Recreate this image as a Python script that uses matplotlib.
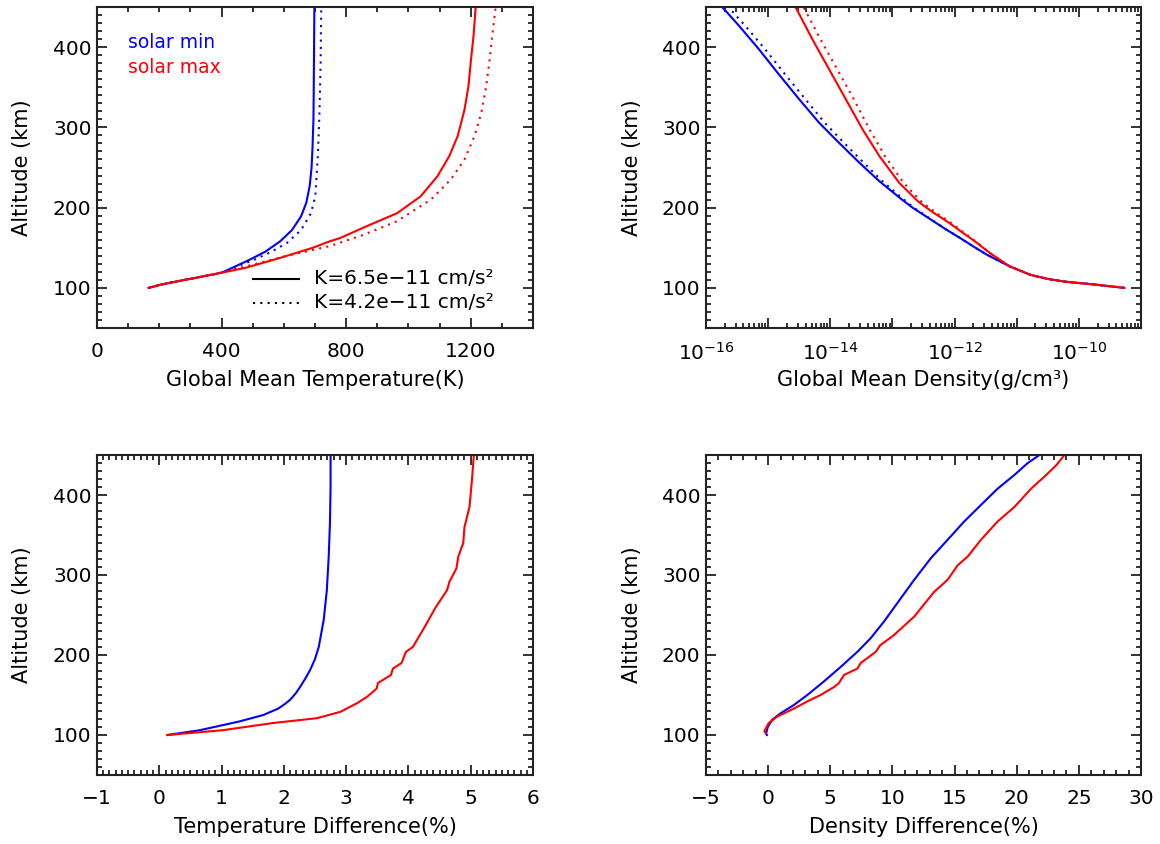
import numpy as np
import matplotlib
matplotlib.use("Agg")
import matplotlib.pyplot as plt
from matplotlib.ticker import MultipleLocator, FixedLocator, FuncFormatter, LogLocator, NullFormatter

# ---------------- data ----------------
# Top-left: global mean temperature (K) vs altitude (km)
alt_tmin_solid = [100, 104, 108, 112, 119, 126, 135, 145, 158, 172, 189, 206, 227, 250, 275, 310, 350, 400, 450]
tmin_solid     = [166, 205, 255, 310, 401, 440, 490, 540, 588, 626, 655, 672, 683, 689, 692, 695, 696, 697, 698]
alt_tmin_dot   = [100, 104, 108, 112, 119, 126, 135, 145, 156, 172, 193, 214, 264, 314, 379, 450]
tmin_dot       = [166, 205, 255, 310, 401, 445, 505, 560, 610, 655, 687, 701, 709, 714, 718, 720]
alt_tmax_solid = [100, 104, 108, 112, 119, 125, 137, 150, 158, 162, 175, 193, 214, 239, 264, 289, 322, 352, 385, 414, 450]
tmax_solid     = [166, 205, 255, 310, 401, 477, 585, 693, 747, 780, 855, 963, 1039, 1093, 1131, 1158, 1180, 1193, 1201, 1209, 1216]
alt_tmax_dot   = [100, 104, 108, 112, 119, 128, 140, 152, 166, 183, 210, 235, 260, 289, 318, 352, 385, 414, 450]
tmax_dot       = [166, 205, 255, 310, 401, 490, 610, 747, 855, 963, 1072, 1136, 1180, 1212, 1234, 1250, 1261, 1269, 1280]

# Top-right: global mean density (log10 g/cm3) vs altitude (km)
alt_dmin_solid = [100, 103.8, 107.9, 111.3, 116.3, 126.7, 141.3, 151.7, 162.1, 172.5, 199.6, 210.8, 232.9, 255.8, 280.8, 305.8, 335, 366.3, 397.5, 426.7, 450]
logd_min_solid = [-9.27, -9.70, -10.24, -10.51, -10.78, -11.11, -11.48, -11.70, -11.91, -12.13, -12.67, -12.86, -13.21, -13.53, -13.86, -14.18, -14.50, -14.83, -15.15, -15.47, -15.74]
alt_dmin_dot   = [100, 103.8, 107.9, 111.3, 116.3, 126.7, 141.3, 151.7, 162.1, 172.5, 199.6, 210.8, 232.9, 255.8, 280.8, 305.8, 335, 366.3, 397.5, 426.7, 450]
logd_min_dot   = [-9.27, -9.70, -10.24, -10.51, -10.78, -11.11, -11.48, -11.70, -11.91, -12.13, -12.65, -12.83, -13.16, -13.46, -13.78, -14.09, -14.40, -14.73, -15.05, -15.37, -15.64]
alt_dmax_solid = [100, 103.8, 107.9, 111.3, 116.3, 126.7, 143.3, 156.7, 168.3, 181.7, 194.2, 207.9, 230.8, 264.2, 297.5, 335, 372.5, 410, 450]
logd_max_solid = [-9.27, -9.70, -10.24, -10.51, -10.78, -11.11, -11.43, -11.65, -11.86, -12.10, -12.35, -12.59, -12.89, -13.21, -13.48, -13.75, -14.02, -14.29, -14.56]
alt_dmax_dot   = [100, 103.8, 107.9, 111.3, 116.3, 126.7, 143.3, 156.7, 168.3, 181.7, 194.2, 207.9, 230.8, 264.2, 297.5, 335, 372.5, 410, 450]
logd_max_dot   = [-9.27, -9.70, -10.24, -10.51, -10.78, -11.11, -11.43, -11.64, -11.84, -12.07, -12.31, -12.54, -12.82, -13.12, -13.37, -13.62, -13.89, -14.16, -14.43]

# Bottom-left: temperature difference (%)
alt_dtmin = [100, 106, 117, 125, 133, 139, 144, 152, 160, 170, 181, 195, 210, 244, 281, 323, 365, 410, 450]
dtmin     = [0.13, 0.65, 1.29, 1.67, 1.91, 2.02, 2.10, 2.19, 2.26, 2.34, 2.42, 2.50, 2.56, 2.64, 2.69, 2.72, 2.74, 2.75, 2.75]
alt_dtmax = [100, 106, 115, 121, 129, 140, 148, 158, 165, 175, 183, 190, 204, 210, 235, 260, 281, 292, 308, 323, 340, 360, 385, 419, 450]
dtmax     = [0.13, 1.02, 1.83, 2.53, 2.91, 3.18, 3.34, 3.49, 3.51, 3.72, 3.75, 3.89, 3.96, 4.07, 4.26, 4.44, 4.62, 4.66, 4.77, 4.80, 4.88, 4.90, 4.98, 5.02, 5.05]

# Bottom-right: density difference (%)
alt_ddmin = [100, 102, 110, 119, 127, 137.5, 150, 167, 185, 204, 221, 242, 265, 294, 321, 344, 367, 387.5, 408, 425, 440, 450]
ddmin     = [-0.10, -0.16, -0.03, 0.32, 0.99, 2.07, 3.15, 4.49, 5.83, 7.18, 8.25, 9.33, 10.4, 11.75, 13.09, 14.44, 15.78, 17.12, 18.47, 19.81, 20.89, 21.83]
alt_ddmax = [102, 105, 115, 123, 133, 142, 150, 160, 165, 175, 183, 190, 204, 212, 225, 248, 279, 294, 312, 323, 344, 367, 385, 408, 423, 437, 450]
ddmax     = [-0.2, -0.3, 0.05, 0.73, 2.07, 3.15, 4.22, 5.30, 5.70, 6.10, 7.18, 7.45, 8.66, 9.00, 10.13, 11.75, 13.36, 14.44, 15.24, 16.05, 17.12, 18.47, 19.81, 21.16, 22.23, 23.17, 23.84]

temp_ticks = [0, 400, 800, 1200]
tdiff_ticks = [-1, 0, 1, 2, 3, 4, 5, 6]
ddiff_ticks = [-5, 0, 5, 10, 15, 20, 25, 30]
alt_ticks = [100, 200, 300, 400]
legend_labels = ["K=6.5e\u221211 cm/s\u00b2", "K=4.2e\u221211 cm/s\u00b2"]
solar_labels = ["solar min", "solar max"]

# ---------------- style ----------------
plt.rcParams['font.family'] = ['DejaVu Sans']
plt.rcParams['mathtext.fontset'] = 'dejavusans'

BLUE = (0, 0, 1)
RED = (1, 0, 0)
LW = 1.5
DOT = (0, (1, 2.5))
FS_TICK = 14.5
FS_LAB = 15

fig = plt.figure(figsize=(11.6, 8.44), dpi=100)
W, H = 1160, 844

def make_ax(x0, x1, ytop, ybot):
    return fig.add_axes([x0 / W, 1 - ybot / H, (x1 - x0) / W, (ybot - ytop) / H])

ax1 = make_ax(97, 533, 7, 328)
ax2 = make_ax(706, 1141, 7, 328)
ax3 = make_ax(97, 533, 455, 775)
ax4 = make_ax(706, 1141, 455, 775)

def style(ax):
    for s in ax.spines.values():
        s.set_linewidth(1.5)
        s.set_color('#222222')
    ax.set_ylim(50, 450)
    ax.yaxis.set_major_locator(FixedLocator(alt_ticks))
    ax.yaxis.set_minor_locator(MultipleLocator(10))
    ax.tick_params(which='both', direction='in', top=True, right=True, color='#222222', width=1.3)
    ax.tick_params(which='major', length=7, labelsize=FS_TICK)
    ax.tick_params(which='minor', length=3.5)
    ax.tick_params(axis='x', which='major', pad=10)
    ax.tick_params(axis='y', which='major', pad=4)
    ax.set_ylabel("Altitude (km)", fontsize=FS_LAB)
    ax.yaxis.set_label_coords(-0.148, 0.5)

def finish_x(ax, label):
    ax.set_xlabel(label, fontsize=FS_LAB)
    ax.xaxis.set_label_coords(0.5, -0.13)

minus = lambda v, p: ("%d" % v).replace('-', '\u2212')

# Panel 1
ax1.plot(tmin_solid, alt_tmin_solid, color=BLUE, lw=LW)
ax1.plot(tmin_dot, alt_tmin_dot, color=BLUE, lw=LW, ls=DOT)
ax1.plot(tmax_solid, alt_tmax_solid, color=RED, lw=LW)
ax1.plot(tmax_dot, alt_tmax_dot, color=RED, lw=LW, ls=DOT)
style(ax1)
ax1.set_xlim(0, 1400)
ax1.xaxis.set_major_locator(FixedLocator(temp_ticks))
ax1.xaxis.set_minor_locator(MultipleLocator(100))
finish_x(ax1, "Global Mean Temperature(K)")
ax1.text(0.071, 0.888, solar_labels[0], color=BLUE, transform=ax1.transAxes, va='center', fontsize=13.5)
ax1.text(0.071, 0.813, solar_labels[1], color=RED, transform=ax1.transAxes, va='center', fontsize=13.5)
ax1.plot([0.358, 0.463], [0.153, 0.153], color='black', lw=LW, transform=ax1.transAxes)
ax1.plot([0.358, 0.463], [0.078, 0.078], color='black', lw=LW, ls=DOT, transform=ax1.transAxes)
ax1.text(0.498, 0.153, legend_labels[0], transform=ax1.transAxes, va='center', fontsize=14.5)
ax1.text(0.498, 0.078, legend_labels[1], transform=ax1.transAxes, va='center', fontsize=14.5)

# Panel 2
ax2.plot(10 ** np.array(logd_min_solid), alt_dmin_solid, color=BLUE, lw=LW)
ax2.plot(10 ** np.array(logd_min_dot), alt_dmin_dot, color=BLUE, lw=LW, ls=DOT)
ax2.plot(10 ** np.array(logd_max_solid), alt_dmax_solid, color=RED, lw=LW)
ax2.plot(10 ** np.array(logd_max_dot), alt_dmax_dot, color=RED, lw=LW, ls=DOT)
ax2.set_xscale('log')
style(ax2)
ax2.set_xlim(1e-16, 1e-9)
ax2.xaxis.set_major_locator(LogLocator(base=10, numticks=20))
ax2.xaxis.set_minor_locator(LogLocator(base=10, subs=np.arange(2, 10), numticks=20))
ax2.xaxis.set_minor_formatter(NullFormatter())
def logfmt(v, pos):
    e = int(round(np.log10(v)))
    if e % 2 == 0:
        return r"$10^{%d}$" % e
    return ""
ax2.xaxis.set_major_formatter(FuncFormatter(logfmt))
finish_x(ax2, "Global Mean Density(g/cm\u00b3)")

# Panel 3
ax3.plot(dtmin, alt_dtmin, color=BLUE, lw=LW)
ax3.plot(dtmax, alt_dtmax, color=RED, lw=LW)
style(ax3)
ax3.set_xlim(-1, 6)
ax3.xaxis.set_major_locator(FixedLocator(tdiff_ticks))
ax3.xaxis.set_minor_locator(MultipleLocator(0.1))
ax3.xaxis.set_major_formatter(FuncFormatter(minus))
finish_x(ax3, "Temperature Difference(%)")

# Panel 4
ax4.plot(ddmin, alt_ddmin, color=BLUE, lw=LW)
ax4.plot(ddmax, alt_ddmax, color=RED, lw=LW)
style(ax4)
ax4.set_xlim(-5, 30)
ax4.xaxis.set_major_locator(FixedLocator(ddiff_ticks))
ax4.xaxis.set_minor_locator(MultipleLocator(1))
ax4.xaxis.set_major_formatter(FuncFormatter(minus))
finish_x(ax4, "Density Difference(%)")

fig.savefig("out.png", dpi=100)
